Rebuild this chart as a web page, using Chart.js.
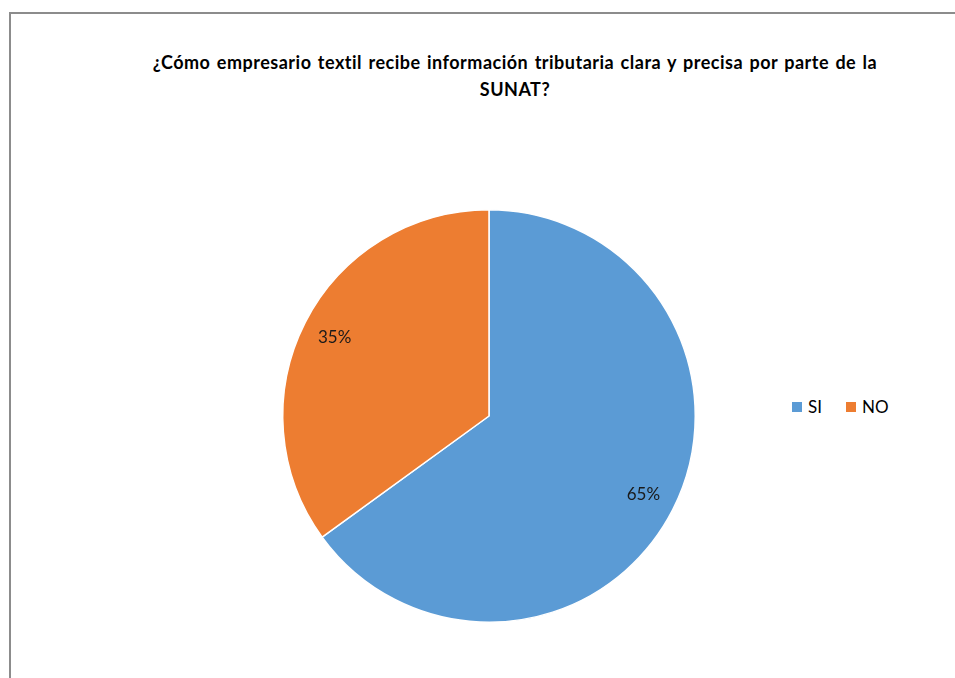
<!DOCTYPE html>
<html>
<head>
<meta charset="utf-8">
<script src="https://cdn.jsdelivr.net/npm/chart.js@4/dist/chart.umd.min.js"></script>
<style>
  html, body { margin: 0; padding: 0; background: #fff; }
  body { width: 955px; height: 678px; position: relative; overflow: hidden; font-family: Lato, "Open Sans", sans-serif; }
  .frame { position: absolute; left: 9px; top: 12px; width: 1000px; height: 1000px; border-top: 2px solid #8c8c8c; border-left: 2px solid #8c8c8c; box-sizing: border-box; }
  .title { position: absolute; left: 65px; width: 900px; top: 49px; text-align: center; font-weight: bold; font-size: 18px; letter-spacing: 0.5px; word-spacing: 1.5px; line-height: 27px; color: #000; }
  .legend { position: absolute; left: 792px; top: 396px; font-size: 17px; color: #000; display: flex; align-items: center; }
  .legend span.box { display: inline-block; width: 10px; height: 10px; margin-right: 6px; }
  .legend span.item { display: inline-flex; align-items: center; margin-right: 24px; }
  canvas { position: absolute; left: 0; top: 0; }
</style>
</head>
<body>
<div class="frame"></div>
<div class="title">¿Cómo empresario textil recibe información tributaria clara y precisa por parte de la<br>SUNAT?</div>
<div class="legend" id="legend"></div>
<canvas id="chart" width="955" height="678"></canvas>
<script>
  const categories = ["SI", "NO"];
  const values = [65, 35];
  const colors = ["#5B9BD5", "#ED7D31"];

  // legend as plain text next to the pie
  const legend = document.getElementById("legend");
  categories.forEach((c, i) => {
    const item = document.createElement("span");
    item.className = "item";
    item.innerHTML = '<span class="box" style="background:' + colors[i] + '"></span>' + c;
    legend.appendChild(item);
  });

  // percent labels inside the slices
  const pctLabels = {
    id: "pctLabels",
    afterDatasetsDraw(chart) {
      const ctx = chart.ctx;
      const meta = chart.getDatasetMeta(0);
      ctx.save();
      ctx.font = "17px Lato, 'Open Sans', sans-serif";
      ctx.fillStyle = "#1a1a1a";
      ctx.textAlign = "center";
      ctx.textBaseline = "middle";
      meta.data.forEach((arc, i) => {
        const mid = (arc.startAngle + arc.endAngle) / 2;
        const r = arc.outerRadius * 0.84;
        ctx.fillText(values[i] + "%", arc.x + Math.cos(mid) * r, arc.y + Math.sin(mid) * r);
      });
      ctx.restore();
    }
  };

  new Chart(document.getElementById("chart").getContext("2d"), {
    type: "pie",
    data: {
      labels: categories,
      datasets: [{
        data: values,
        backgroundColor: colors,
        borderColor: "#ffffff",
        borderWidth: 1.5
      }]
    },
    options: {
      responsive: false,
      animation: false,
      layout: { padding: { top: 209, bottom: 55, left: 282, right: 259 } },
      plugins: {
        legend: { display: false },
        tooltip: { enabled: false }
      }
    },
    plugins: [pctLabels]
  });
</script>
</body>
</html>
